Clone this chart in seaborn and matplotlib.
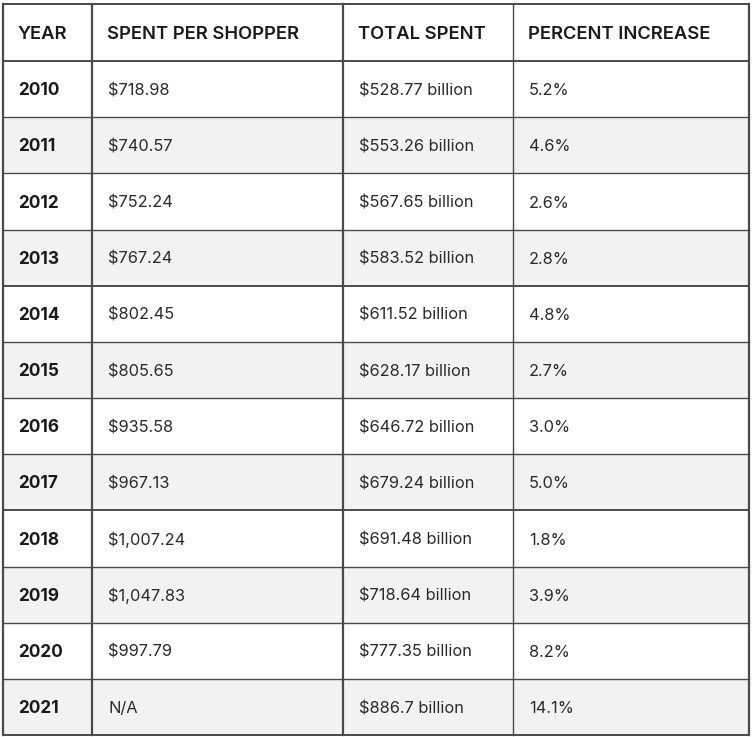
"""
Holiday spending table
"""
import matplotlib
matplotlib.use("Agg")
import matplotlib.pyplot as plt
import seaborn as sns

sns.set_style("white")
plt.rcParams['font.family'] = ['Inter', 'DejaVu Sans']

# データ
headers = ["YEAR", "SPENT PER SHOPPER", "TOTAL SPENT", "PERCENT INCREASE"]
years = [2010, 2011, 2012, 2013, 2014, 2015, 2016, 2017, 2018, 2019, 2020, 2021]
spent_per_shopper = [718.98, 740.57, 752.24, 767.24, 802.45, 805.65,
                     935.58, 967.13, 1007.24, 1047.83, 997.79, None]
total_spent = [528.77, 553.26, 567.65, 583.52, 611.52, 628.17,
               646.72, 679.24, 691.48, 718.64, 777.35, 886.7]
percent_increase = [5.2, 4.6, 2.6, 2.8, 4.8, 2.7, 3.0, 5.0, 1.8, 3.9, 8.2, 14.1]

rows = []
for y, s, t, p in zip(years, spent_per_shopper, total_spent, percent_increase):
    rows.append([
        str(y),
        "N/A" if s is None else f"${s:,.2f}",
        f"${t} billion",
        f"{p:.1f}%",
    ])

# レイアウト（ピクセル単位）
W, H = 752, 737
col_edges = [3, 92, 343, 513, 749]
top, header_bottom, bottom = 4, 61, 735
row_h = (bottom - header_bottom) / len(rows)
pad = 16
line_color = '#4a4a4a'
text_color = '#1a1a1a'

fig = plt.figure(figsize=(W / 100, H / 100), dpi=100)
ax = fig.add_axes([0, 0, 1, 1])
ax.set_xlim(0, W)
ax.set_ylim(H, 0)
ax.axis('off')

# 縞模様の背景
for i in range(len(rows)):
    if i % 2 == 1:
        y0 = header_bottom + i * row_h
        ax.fill_between([col_edges[0], col_edges[-1]], y0, y0 + row_h,
                        color='#f2f2f2', linewidth=0, zorder=0)

# ヘッダー
for j, h in enumerate(headers):
    ax.text(col_edges[j] + pad - 1, (top + header_bottom) / 2 + 6.8, h,
            fontsize=13.2, fontweight='semibold', color=text_color,
            va='baseline', ha='left')

# 本体
for i, r in enumerate(rows):
    yc = header_bottom + (i + 0.5) * row_h
    for j, val in enumerate(r):
        ax.text(col_edges[j] + pad - (1 if j == 0 else 0), yc + 6.2, val,
                fontsize=12.4 if j == 0 else 11.8,
                fontweight='bold' if j == 0 else 'normal',
                color=text_color if j == 0 else '#2a2a2a',
                va='baseline', ha='left')

# 罫線
hlines = [top, header_bottom] + [header_bottom + (i + 1) * row_h for i in range(len(rows))]
for k, yy in enumerate(hlines):
    ax.plot([col_edges[0], col_edges[-1]], [yy, yy], color=line_color,
            linewidth=1.4 if k in (0, 1, 5, 9, len(hlines) - 1) else 1.0,
            solid_capstyle='projecting', zorder=3)
for k, xx in enumerate(col_edges):
    ax.plot([xx, xx], [top, bottom], color=line_color,
            linewidth=1.0 if k == 3 else 1.6,
            solid_capstyle='projecting', zorder=3)

plt.savefig('out.png', dpi=100)
plt.close()
